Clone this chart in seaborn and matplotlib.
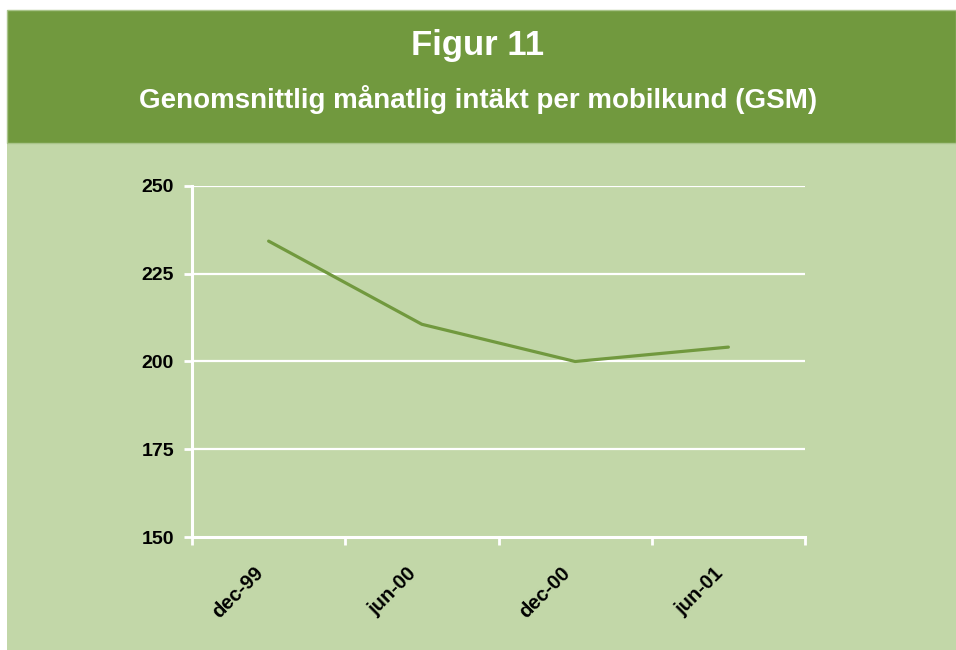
import matplotlib
matplotlib.use("Agg")
import matplotlib.pyplot as plt
import seaborn as sns
from matplotlib.patches import Rectangle
from matplotlib.ticker import FixedLocator
from matplotlib.transforms import ScaledTranslation

categories = ["dec-99", "jun-00", "dec-00", "jun-01"]
values = [234.3, 210.6, 200.0, 204.1]
y_ticks = [150, 175, 200, 225, 250]

title = "Figur 11"
subtitle = "Genomsnittlig månatlig intäkt per mobilkund (GSM)"

HEADER = "#71993E"
PANEL = "#C2D7A8"
LINE = "#71993E"

sns.set_theme(style="white")
plt.rcParams["font.family"] = ["Liberation Sans", "DejaVu Sans"]

W, H = 956, 650
fig = plt.figure(figsize=(W / 100, H / 100), dpi=100)
fig.patch.set_facecolor("white")

# panel and header backgrounds (figure coordinates)
fig.patches.append(Rectangle((7 / W, 0), 1 - 7 / W, (H - 143) / H,
                             transform=fig.transFigure, facecolor=PANEL,
                             edgecolor="none", zorder=-10))
fig.patches.append(Rectangle((7 / W, (H - 143) / H), 1 - 7 / W, 133 / H,
                             transform=fig.transFigure, facecolor=HEADER,
                             edgecolor="#A9C48A", linewidth=1.0, zorder=-10))

fig.text(0.5, (H - 46) / H, title, ha="center", va="center", color="white",
         fontsize=25, fontweight="bold")
fig.text(0.5, (H - 100) / H, subtitle, ha="center", va="center", color="white",
         fontsize=20, fontweight="bold")

left, right, top, bottom = 192, 805, 186, 537
ax = fig.add_axes([left / W, (H - bottom) / H, (right - left) / W, (bottom - top) / H])
ax.set_facecolor("none")
ax.set_zorder(5)

sns.lineplot(x=categories, y=values, ax=ax, color=LINE, linewidth=2.3, sort=False)

ax.set_xlim(-0.5, len(categories) - 0.5)
ax.set_ylim(150, 250)
ax.set_yticks(y_ticks)
ax.set_yticklabels([str(v) for v in y_ticks])
ax.set_xticks(range(len(categories)))
ax.set_xticklabels(categories, rotation=45, ha="right", rotation_mode="anchor")
ax.xaxis.set_minor_locator(FixedLocator([i - 0.5 for i in range(len(categories) + 1)]))

for v in y_ticks[1:]:
    ax.axhline(v, color="white", linewidth=1.6, zorder=0.5)

for s in ["top", "right"]:
    ax.spines[s].set_visible(False)
for s in ["left", "bottom"]:
    ax.spines[s].set_color("white")
    ax.spines[s].set_linewidth(2.2)

ax.tick_params(axis="y", which="major", length=6, width=2, color="white",
               direction="out", left=True, labelsize=14, pad=7)
ax.tick_params(axis="x", which="major", length=0, labelsize=14.5, pad=12)
ax.tick_params(axis="x", which="minor", length=6, width=2, color="white",
               direction="out", bottom=True)
offset = ScaledTranslation(-0.15, -0.10, fig.dpi_scale_trans)
for lab in ax.get_xticklabels():
    lab.set_transform(lab.get_transform() + offset)
for lab in ax.get_xticklabels() + ax.get_yticklabels():
    lab.set_fontweight("bold")
    lab.set_color("black")

ax.set_xlabel("")
ax.set_ylabel("")

fig.savefig("out.png", dpi=100, facecolor="white")
